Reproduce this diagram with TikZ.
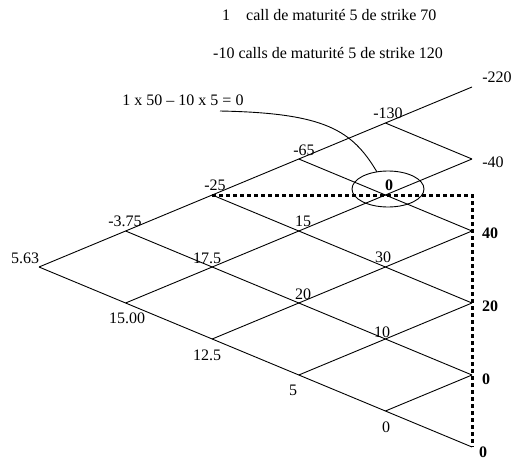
\documentclass[tikz,border=0pt]{standalone}
\usepackage{fontspec}
\setmainfont{Liberation Serif}
\begin{document}
\begin{tikzpicture}[x=1pt,y=-1pt,
  edge/.style={line width=0.9pt},
  lbl/.style={inner sep=0pt,font=\fontsize{16}{19}\selectfont},
  blbl/.style={inner sep=0pt,font=\fontsize{16}{19}\selectfont\bfseries},
  txt/.style={inner sep=0pt,font=\fontsize{16}{19}\selectfont},
  dashline/.style={line width=3pt,dash pattern=on 4pt off 3pt}]
\useasboundingbox (0,0) rectangle (514,461);
% lattice points
\foreach \i in {0,...,5} {
  \foreach \j in {0,...,\i} {
    \coordinate (n\i\j) at ({39+86.6*\i},{267+36*(\i-2*\j)});
  }
}
% lattice edges
\foreach \i in {0,...,4} {
  \foreach \j in {0,...,\i} {
    \pgfmathtruncatemacro\k{\i+1}
    \pgfmathtruncatemacro\m{\j+1}
    \draw[edge] (n\i\j) -- (n\k\j);
    \draw[edge] (n\i\j) -- (n\k\m);
  }
}
% dashed boundary
\coordinate (corner) at (n50 |- n22);
\draw[dashline] (n22) -- (corner) -- (n50);
% ellipse
\draw[edge] (388,189) ellipse [x radius=36, y radius=18];
\coordinate (etop) at (377,172);
% titles
\node[txt,anchor=west] (t1) at (222,15) {1\hspace{16pt}call de maturité 5 de strike 70};
\node[txt,anchor=west] (t2) at (213,53) {-10 calls de maturité 5 de strike 120};
\node[txt] (f) at (183,100) {1 x 50 – 10 x 5 = 0};
\coordinate (fend) at (220,111);
\draw[edge] (fend) .. controls (325,113) and (352,130) .. (etop);
% labels
\node[lbl] (l00) at (25,258) {5.63};
\node[lbl] (l11) at (125,221) {-3.75};
\node[lbl] (l10) at (127,318) {15.00};
\node[lbl] (l22) at (215,185) {-25};
\node[lbl] (l21) at (207,258) {17.5};
\node[lbl] (l20) at (207,355) {12.5};
\node[lbl] (l33) at (304,150) {-65};
\node[lbl] (l32) at (303,221) {15};
\node[lbl] (l31) at (303,294) {20};
\node[lbl] (l30) at (293,390) {5};
\node[lbl] (l44) at (388,113) {-130};
\node[blbl] (l43) at (389,185) {0};
\node[lbl] (l42) at (383,257) {30};
\node[lbl] (l41) at (382,332) {10};
\node[lbl] (l40) at (386,427) {0};
\node[lbl] (l55) at (497,77) {-220};
\node[lbl] (l54) at (493,162) {-40};
\node[blbl,anchor=west] (l53) at (482,233) {40};
\node[blbl,anchor=west] (l52) at (482,306) {20};
\node[blbl,anchor=west] (l51) at (482,379) {0};
\node[blbl,anchor=west] (l50) at (479,452) {0};
\end{tikzpicture}
\end{document}
